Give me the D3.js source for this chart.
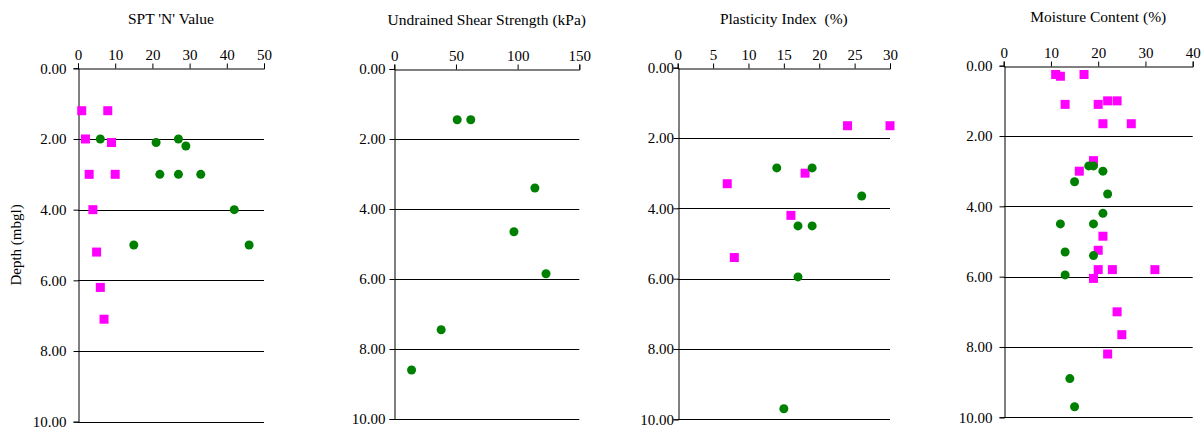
<!DOCTYPE html>
<html>
<head>
<meta charset="utf-8">
<script src="https://cdn.jsdelivr.net/npm/d3@7/dist/d3.min.js"></script>
</head>
<body style="margin:0;padding:0;background:#fff">
<svg id="chart" width="1204" height="432" style="display:block"></svg>
<script>
// ---------- DATA ----------
const panelTitles = ["SPT 'N' Value", "Undrained Shear Strength (kPa)", "Plasticity Index  (%)", "Moisture Content (%)"];
const xDomains = [[0, 50], [0, 150], [0, 30], [0, 40]];
const xTickValues = [[0, 10, 20, 30, 40, 50], [0, 50, 100, 150], [0, 5, 10, 15, 20, 25, 30], [0, 10, 20, 30, 40]];
const depthTicks = [0, 2, 4, 6, 8, 10];
const depthLabel = "Depth (mbgl)";

// SPT 'N'
const sptSquares = [[1, 1.2], [8, 1.2], [2, 2.0], [9, 2.1], [3, 3.0], [10, 3.0], [4, 4.0], [5, 5.2], [6, 6.2], [7, 7.1]];
const sptCircles = [[6, 2.0], [21, 2.1], [27, 2.0], [29, 2.2], [22, 3.0], [27, 3.0], [33, 3.0], [42, 4.0], [15, 5.0], [46, 5.0]];
// Undrained shear strength
const cuSquares = [];
const cuCircles = [[51, 1.45], [62, 1.45], [114, 3.4], [97, 4.65], [123, 5.85], [38, 7.45], [14, 8.6]];
// Plasticity index
const piSquares = [[24, 1.65], [30, 1.65], [7, 3.3], [18, 3.0], [16, 4.2], [8, 5.4]];
const piCircles = [[14, 2.85], [19, 2.85], [26, 3.65], [17, 4.5], [19, 4.5], [17, 5.95], [15, 9.7]];
// Moisture content
const mcSquares = [[11, 0.25], [12, 0.3], [17, 0.25], [13, 1.1], [20, 1.1], [22, 1.0], [24, 1.0], [21, 1.65], [27, 1.65],
  [19, 2.7], [16, 3.0], [21, 4.85], [20, 5.25], [20, 5.8], [23, 5.8], [32, 5.8], [19, 6.05], [24, 7.0], [25, 7.65], [22, 8.2]];
const mcCircles = [[18, 2.85], [19, 2.85], [21, 3.0], [15, 3.3], [22, 3.65], [21, 4.2], [12, 4.5], [19, 4.5], [13, 5.3],
  [19, 5.4], [13, 5.95], [14, 8.9], [15, 9.7]];

const squareSeries = [sptSquares, cuSquares, piSquares, mcSquares];
const circleSeries = [sptCircles, cuCircles, piCircles, mcCircles];

// ---------- LAYOUT ----------
const layout = [
  { left: 78,    right: 264,   top: 68.3, bottom: 421.7, labelGap: 12 },
  { left: 394.3, right: 579.3, top: 69,   bottom: 419,   labelGap: 9 },
  { left: 677.7, right: 890,   top: 67.7, bottom: 419.3, labelGap: 4.5 },
  { left: 1003.7, right: 1192.7, top: 65.7, bottom: 417.3, labelGap: 12 }
];

const FONT = "Liberation Serif";
const svg = d3.select("#chart");
const GREEN = "#008000", MAGENTA = "#ff00ff";

function styleText(sel, size) {
  sel.attr("font-family", FONT).attr("font-size", size)
     .style("font-family", FONT).style("font-size", size + "px").style("fill", "#000");
  return sel;
}

layout.forEach((L, i) => {
  const x = d3.scaleLinear().domain(xDomains[i]).range([L.left, L.right]);
  const y = d3.scaleLinear().domain([0, 10]).range([L.top, L.bottom]);
  const g = svg.append("g").attr("font-family", FONT);

  // gridlines (including bottom at 10)
  g.selectAll("line.grid").data(depthTicks.filter(d => d > 0)).enter().append("line")
    .attr("x1", L.left).attr("x2", L.right)
    .attr("y1", d => Math.round(y(d)) + 0.5).attr("y2", d => Math.round(y(d)) + 0.5)
    .attr("stroke", "#000").attr("stroke-width", 1);

  // top axis
  const xAxis = d3.axisTop(x).tickValues(xTickValues[i]).tickSize(5).tickPadding(4).tickFormat(d3.format("d"));
  const gx = g.append("g").attr("transform", `translate(0,${Math.round(L.top) + 0.5})`).call(xAxis);
  gx.attr("font-family", FONT).attr("font-size", 15);
  gx.select(".domain").attr("stroke", "#000");
  gx.selectAll(".tick line").attr("stroke", "#000");
  styleText(gx.selectAll(".tick text"), 15);

  // left axis
  const yAxis = d3.axisLeft(y).tickValues(depthTicks).tickSize(5).tickFormat(d3.format(".2f"));
  const gy = g.append("g").attr("transform", `translate(${Math.round(L.left) + 0.5},0)`).call(yAxis);
  gy.attr("font-family", FONT).attr("font-size", 15);
  gy.select(".domain").attr("stroke", "#000");
  gy.selectAll(".tick line").attr("stroke", "#000");
  styleText(gy.selectAll(".tick text"), 15);
  gy.selectAll(".tick text").attr("x", -L.labelGap);

  // title
  styleText(g.append("text").attr("x", (L.left + L.right) / 2).attr("y", L.top - 44)
    .attr("text-anchor", "middle").style("white-space", "pre").attr("xml:space", "preserve")
    .text(panelTitles[i]), 15.5);

  // squares
  const s = 9;
  g.selectAll("rect.sq").data(squareSeries[i]).enter().append("rect")
    .attr("x", d => x(d[0]) - s / 2).attr("y", d => y(d[1]) - s / 2)
    .attr("width", s).attr("height", s).attr("fill", MAGENTA);

  // circles
  g.selectAll("circle.pt").data(circleSeries[i]).enter().append("circle")
    .attr("cx", d => x(d[0])).attr("cy", d => y(d[1])).attr("r", 4.5).attr("fill", GREEN);
});

// y-axis label
styleText(svg.append("text")
  .attr("transform", `translate(21,245) rotate(-90)`)
  .attr("text-anchor", "middle").text(depthLabel), 15);
</script>
</body>
</html>
